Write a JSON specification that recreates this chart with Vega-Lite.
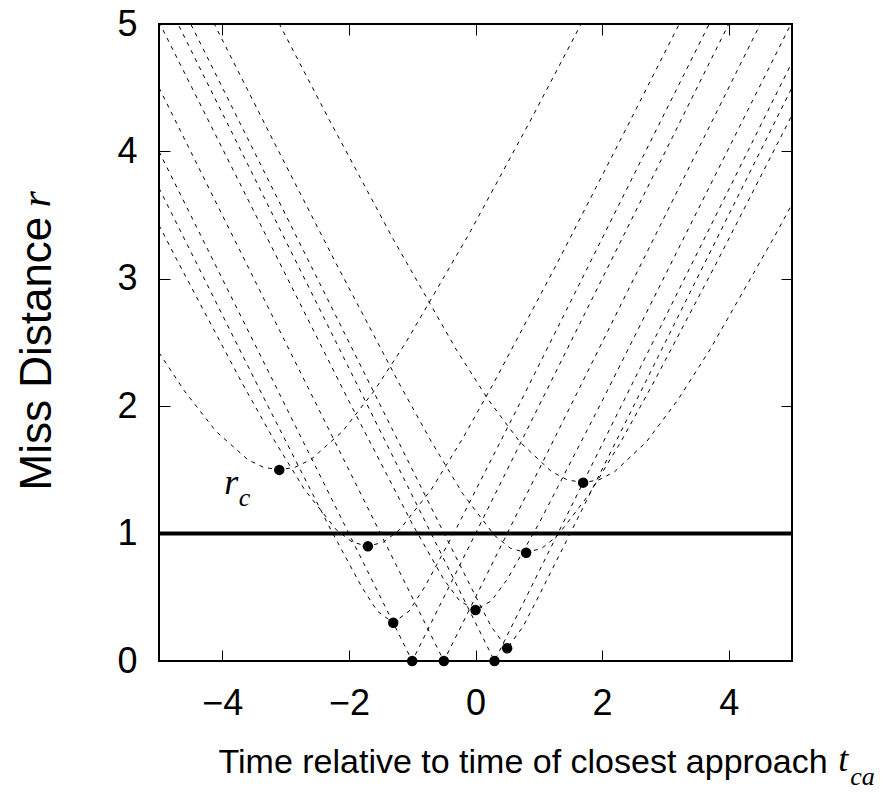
{
  "$schema": "https://vega.github.io/schema/vega-lite/v6.json",
  "width": 633,
  "height": 637,
  "autosize": "none",
  "padding": {"left": 159, "top": 24, "right": 102, "bottom": 134},
  "background": "white",
  "config": {
    "view": {"stroke": "black", "strokeWidth": 2},
    "font": "Liberation Sans",
    "axis": {
      "domain": false,
      "grid": false,
      "tickColor": "black",
      "tickSize": -11,
      "tickWidth": 1,
      "labelColor": "black",
      "labelFont": "Liberation Sans",
      "labelFontSize": 36,
      "titleFont": "Liberation Sans",
      "titleFontSize": 34,
      "titleFontWeight": "normal",
      "titleColor": "black"
    }
  },
  "datasets": {
    "curves": [
      {"curve": "A", "t": -5, "r": 2.421}, {"curve": "A", "t": -4.6, "r": 2.121}, {"curve": "A", "t": -4.1, "r": 1.803}, {"curve": "A", "t": -3.6, "r": 1.581}, {"curve": "A", "t": -3.35, "r": 1.521}, {"curve": "A", "t": -3.1, "r": 1.5}, {"curve": "A", "t": -2.85, "r": 1.521}, {"curve": "A", "t": -2.6, "r": 1.581}, {"curve": "A", "t": -2.1, "r": 1.803}, {"curve": "A", "t": -1.6, "r": 2.121}, {"curve": "A", "t": -1.1, "r": 2.5}, {"curve": "A", "t": -0.1, "r": 3.354}, {"curve": "A", "t": 0.9, "r": 4.272}, {"curve": "A", "t": 1.9, "r": 5.22},
      {"curve": "B", "t": -5, "r": 3.421}, {"curve": "B", "t": -4.7, "r": 3.132}, {"curve": "B", "t": -3.7, "r": 2.193}, {"curve": "B", "t": -3.2, "r": 1.749}, {"curve": "B", "t": -2.7, "r": 1.345}, {"curve": "B", "t": -2.2, "r": 1.03}, {"curve": "B", "t": -1.95, "r": 0.934}, {"curve": "B", "t": -1.7, "r": 0.9}, {"curve": "B", "t": -1.45, "r": 0.934}, {"curve": "B", "t": -1.2, "r": 1.03}, {"curve": "B", "t": -0.7, "r": 1.345}, {"curve": "B", "t": -0.2, "r": 1.749}, {"curve": "B", "t": 0.3, "r": 2.193}, {"curve": "B", "t": 1.3, "r": 3.132}, {"curve": "B", "t": 2.3, "r": 4.1}, {"curve": "B", "t": 3.3, "r": 5.08},
      {"curve": "C", "t": -5, "r": 3.712}, {"curve": "C", "t": -3.3, "r": 2.022}, {"curve": "C", "t": -2.3, "r": 1.044}, {"curve": "C", "t": -1.8, "r": 0.583}, {"curve": "C", "t": -1.55, "r": 0.391}, {"curve": "C", "t": -1.3, "r": 0.3}, {"curve": "C", "t": -1.05, "r": 0.391}, {"curve": "C", "t": -0.8, "r": 0.583}, {"curve": "C", "t": -0.3, "r": 1.044}, {"curve": "C", "t": 0.7, "r": 2.022}, {"curve": "C", "t": 3.7, "r": 5.009},
      {"curve": "D", "t": -5, "r": 4}, {"curve": "D", "t": -1, "r": 0}, {"curve": "D", "t": 5, "r": 6},
      {"curve": "E", "t": -5, "r": 4.5}, {"curve": "E", "t": -0.5, "r": 0}, {"curve": "E", "t": 5, "r": 5.5},
      {"curve": "F", "t": -5, "r": 5.016}, {"curve": "F", "t": -2, "r": 2.04}, {"curve": "F", "t": -1, "r": 1.077}, {"curve": "F", "t": -0.5, "r": 0.64}, {"curve": "F", "t": -0.25, "r": 0.472}, {"curve": "F", "t": 0, "r": 0.4}, {"curve": "F", "t": 0.25, "r": 0.472}, {"curve": "F", "t": 0.5, "r": 0.64}, {"curve": "F", "t": 1, "r": 1.077}, {"curve": "F", "t": 2, "r": 2.04}, {"curve": "F", "t": 5, "r": 5.016},
      {"curve": "G", "t": -5, "r": 5.3}, {"curve": "G", "t": 0.3, "r": 0}, {"curve": "G", "t": 5, "r": 4.7},
      {"curve": "H", "t": -5, "r": 5.501}, {"curve": "H", "t": -0.5, "r": 1.005}, {"curve": "H", "t": 0, "r": 0.51}, {"curve": "H", "t": 0.25, "r": 0.269}, {"curve": "H", "t": 0.5, "r": 0.1}, {"curve": "H", "t": 0.75, "r": 0.269}, {"curve": "H", "t": 1, "r": 0.51}, {"curve": "H", "t": 1.5, "r": 1.005}, {"curve": "H", "t": 5, "r": 4.501},
      {"curve": "I", "t": -4.2, "r": 5.072}, {"curve": "I", "t": -3.2, "r": 4.089}, {"curve": "I", "t": -2.2, "r": 3.118}, {"curve": "I", "t": -1.2, "r": 2.173}, {"curve": "I", "t": -0.7, "r": 1.724}, {"curve": "I", "t": -0.2, "r": 1.312}, {"curve": "I", "t": 0.3, "r": 0.986}, {"curve": "I", "t": 0.55, "r": 0.886}, {"curve": "I", "t": 0.8, "r": 0.85}, {"curve": "I", "t": 1.05, "r": 0.886}, {"curve": "I", "t": 1.3, "r": 0.986}, {"curve": "I", "t": 1.8, "r": 1.312}, {"curve": "I", "t": 2.3, "r": 1.724}, {"curve": "I", "t": 2.8, "r": 2.173}, {"curve": "I", "t": 3.8, "r": 3.118}, {"curve": "I", "t": 5, "r": 4.285},
      {"curve": "J", "t": -3.3, "r": 5.192}, {"curve": "J", "t": -2.3, "r": 4.238}, {"curve": "J", "t": -1.3, "r": 3.311}, {"curve": "J", "t": -0.3, "r": 2.441}, {"curve": "J", "t": 0.2, "r": 2.052}, {"curve": "J", "t": 0.7, "r": 1.72}, {"curve": "J", "t": 1.2, "r": 1.487}, {"curve": "J", "t": 1.45, "r": 1.422}, {"curve": "J", "t": 1.7, "r": 1.4}, {"curve": "J", "t": 1.95, "r": 1.422}, {"curve": "J", "t": 2.2, "r": 1.487}, {"curve": "J", "t": 2.7, "r": 1.72}, {"curve": "J", "t": 3.2, "r": 2.052}, {"curve": "J", "t": 3.7, "r": 2.441}, {"curve": "J", "t": 4.7, "r": 3.311}, {"curve": "J", "t": 5, "r": 3.585}
    ],
    "points": [
      {"t": -3.1, "r": 1.5}, {"t": -1.7, "r": 0.9}, {"t": -1.3, "r": 0.3}, {"t": -1.0, "r": 0}, {"t": -0.5, "r": 0},
      {"t": 0, "r": 0.4}, {"t": 0.3, "r": 0}, {"t": 0.5, "r": 0.1}, {"t": 0.8, "r": 0.85}, {"t": 1.7, "r": 1.4}
    ],
    "threshold": [{"r": 1}]
  },
  "resolve": {"axis": {"x": "independent", "y": "independent"}},
  "layer": [
    {
      "data": {"name": "curves"},
      "mark": {"type": "line", "clip": true, "color": "black", "strokeWidth": 1, "strokeDash": [4, 5]},
      "encoding": {
        "x": {"field": "t", "type": "quantitative", "scale": {"domain": [-5, 5], "nice": false, "zero": false},
          "axis": {"orient": "bottom", "values": [-4, -2, 0, 2, 4], "labelPadding": 36,
            "title": "Time relative to time of closest approach", "titleAlign": "left", "titleBaseline": "alphabetic", "titleX": 59, "titleY": 111, "titleAngle": 0}},
        "y": {"field": "r", "type": "quantitative", "scale": {"domain": [0, 5], "nice": false, "zero": false},
          "axis": {"orient": "left", "values": [0, 1, 2, 3, 4, 5], "labelPadding": 33,
            "title": "Miss Distance", "titleFontSize": 44, "titleAlign": "left", "titleBaseline": "alphabetic", "titleAngle": 270, "titleX": -109, "titleY": 466}},
        "detail": {"field": "curve"}
      }
    },
    {
      "data": {"name": "threshold"},
      "mark": {"type": "rule", "color": "black", "strokeWidth": 4},
      "encoding": {
        "y": {"field": "r", "type": "quantitative", "scale": {"domain": [0, 5], "nice": false, "zero": false}, "axis": null}
      }
    },
    {
      "data": {"name": "points"},
      "mark": {"type": "point", "filled": true, "shape": "circle", "color": "black", "size": 110, "opacity": 1, "clip": false},
      "encoding": {
        "x": {"field": "t", "type": "quantitative", "scale": {"domain": [-5, 5], "nice": false, "zero": false},
          "axis": {"orient": "top", "values": [-4, -2, 0, 2, 4], "labels": false, "title": null}},
        "y": {"field": "r", "type": "quantitative", "scale": {"domain": [0, 5], "nice": false, "zero": false},
          "axis": {"orient": "right", "values": [0, 1, 2, 3, 4, 5], "labels": false, "title": null}}
      }
    },
    {
      "data": {"values": [{}]},
      "mark": {"type": "text", "text": "r", "font": "Liberation Serif", "fontStyle": "italic", "fontSize": 36, "align": "left", "baseline": "alphabetic", "color": "black"},
      "encoding": {
        "x": {"datum": -3.97, "type": "quantitative", "scale": {"domain": [-5, 5], "nice": false, "zero": false}, "axis": null},
        "y": {"datum": 1.31, "type": "quantitative", "scale": {"domain": [0, 5], "nice": false, "zero": false}, "axis": null}
      }
    },
    {
      "data": {"values": [{}]},
      "mark": {"type": "text", "text": "c", "font": "Liberation Serif", "fontStyle": "italic", "fontSize": 26, "align": "left", "baseline": "alphabetic", "color": "black"},
      "encoding": {
        "x": {"datum": -3.74, "type": "quantitative", "scale": {"domain": [-5, 5], "nice": false, "zero": false}, "axis": null},
        "y": {"datum": 1.22, "type": "quantitative", "scale": {"domain": [0, 5], "nice": false, "zero": false}, "axis": null}
      }
    },
    {
      "data": {"values": [{}]},
      "mark": {"type": "text", "text": "t", "font": "Liberation Serif", "fontStyle": "italic", "fontSize": 36, "align": "left", "baseline": "alphabetic", "color": "black"},
      "encoding": {
        "x": {"datum": 5.73, "type": "quantitative", "scale": {"domain": [-5, 5], "nice": false, "zero": false}, "axis": null},
        "y": {"datum": -0.863, "type": "quantitative", "scale": {"domain": [0, 5], "nice": false, "zero": false}, "axis": null}
      }
    },
    {
      "data": {"values": [{}]},
      "mark": {"type": "text", "text": "ca", "font": "Liberation Serif", "fontStyle": "italic", "fontSize": 26, "align": "left", "baseline": "alphabetic", "color": "black"},
      "encoding": {
        "x": {"datum": 5.92, "type": "quantitative", "scale": {"domain": [-5, 5], "nice": false, "zero": false}, "axis": null},
        "y": {"datum": -0.973, "type": "quantitative", "scale": {"domain": [0, 5], "nice": false, "zero": false}, "axis": null}
      }
    },
    {
      "data": {"values": [{}]},
      "mark": {"type": "text", "text": "r", "font": "Liberation Serif", "fontStyle": "italic", "fontSize": 42, "align": "left", "baseline": "alphabetic", "angle": 270, "color": "black"},
      "encoding": {
        "x": {"datum": -6.72, "type": "quantitative", "scale": {"domain": [-5, 5], "nice": false, "zero": false}, "axis": null},
        "y": {"datum": 3.56, "type": "quantitative", "scale": {"domain": [0, 5], "nice": false, "zero": false}, "axis": null}
      }
    }
  ]
}
